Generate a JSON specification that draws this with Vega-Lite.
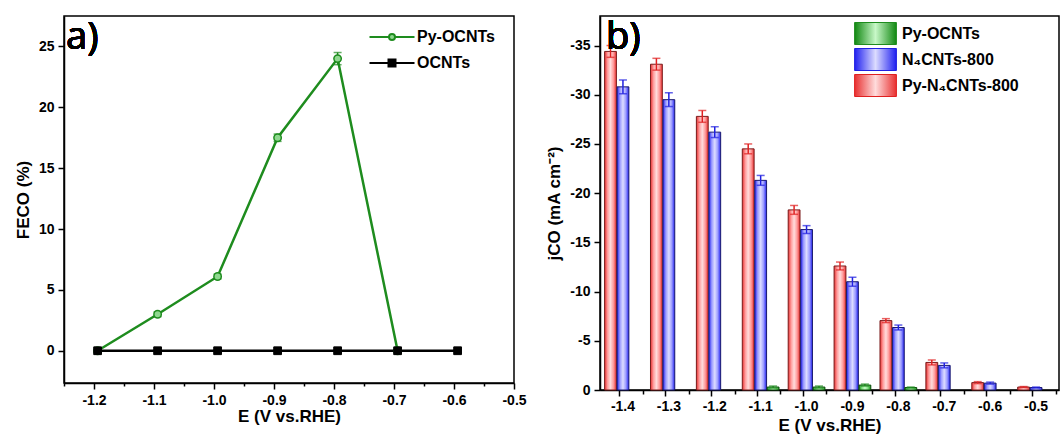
{
  "$schema": "https://vega.github.io/schema/vega-lite/v6.json",
  "padding": {"left": 13, "top": 15, "right": 0, "bottom": 0},
  "spacing": 18,
  "resolve": {"scale": {"color": "independent", "stroke": "independent", "fill": "independent", "shape": "independent", "y": "independent"}},
  "datasets": {
    "fe": [
      {"E": -1.194, "FE": 0, "err": 0.1, "s": "Py-OCNTs"},
      {"E": -1.094, "FE": 3.0, "err": 0.2, "s": "Py-OCNTs"},
      {"E": -0.994, "FE": 6.1, "err": 0.2, "s": "Py-OCNTs"},
      {"E": -0.894, "FE": 17.5, "err": 0.3, "s": "Py-OCNTs"},
      {"E": -0.794, "FE": 24.0, "err": 0.5, "s": "Py-OCNTs"},
      {"E": -0.694, "FE": 0, "err": 0.1, "s": "Py-OCNTs"},
      {"E": -1.194, "FE": 0, "err": 0, "s": "OCNTs"},
      {"E": -1.094, "FE": 0, "err": 0, "s": "OCNTs"},
      {"E": -0.994, "FE": 0, "err": 0, "s": "OCNTs"},
      {"E": -0.894, "FE": 0, "err": 0, "s": "OCNTs"},
      {"E": -0.794, "FE": 0, "err": 0, "s": "OCNTs"},
      {"E": -0.694, "FE": 0, "err": 0, "s": "OCNTs"},
      {"E": -0.594, "FE": 0, "err": 0, "s": "OCNTs"}
    ],
    "jco": [
      {"E": "-1.4", "s": "Py-N₄CNTs-800", "j": -34.4, "err": 0.6},
      {"E": "-1.4", "s": "N₄CNTs-800", "j": -30.8, "err": 0.7},
      {"E": "-1.3", "s": "Py-N₄CNTs-800", "j": -33.1, "err": 0.6},
      {"E": "-1.3", "s": "N₄CNTs-800", "j": -29.5, "err": 0.7},
      {"E": "-1.2", "s": "Py-N₄CNTs-800", "j": -27.8, "err": 0.6},
      {"E": "-1.2", "s": "N₄CNTs-800", "j": -26.2, "err": 0.55},
      {"E": "-1.1", "s": "Py-N₄CNTs-800", "j": -24.5, "err": 0.5},
      {"E": "-1.1", "s": "N₄CNTs-800", "j": -21.3, "err": 0.5},
      {"E": "-1.1", "s": "Py-OCNTs", "j": -0.3, "err": 0.1},
      {"E": "-1.0", "s": "Py-N₄CNTs-800", "j": -18.3, "err": 0.45},
      {"E": "-1.0", "s": "N₄CNTs-800", "j": -16.3, "err": 0.4},
      {"E": "-1.0", "s": "Py-OCNTs", "j": -0.3, "err": 0.1},
      {"E": "-0.9", "s": "Py-N₄CNTs-800", "j": -12.6, "err": 0.4},
      {"E": "-0.9", "s": "N₄CNTs-800", "j": -11.0, "err": 0.45},
      {"E": "-0.9", "s": "Py-OCNTs", "j": -0.5, "err": 0.1},
      {"E": "-0.8", "s": "Py-N₄CNTs-800", "j": -7.05, "err": 0.2},
      {"E": "-0.8", "s": "N₄CNTs-800", "j": -6.35, "err": 0.25},
      {"E": "-0.8", "s": "Py-OCNTs", "j": -0.25, "err": 0.05},
      {"E": "-0.7", "s": "Py-N₄CNTs-800", "j": -2.8, "err": 0.25},
      {"E": "-0.7", "s": "N₄CNTs-800", "j": -2.5, "err": 0.25},
      {"E": "-0.6", "s": "Py-N₄CNTs-800", "j": -0.75, "err": 0.1},
      {"E": "-0.6", "s": "N₄CNTs-800", "j": -0.7, "err": 0.1},
      {"E": "-0.5", "s": "Py-N₄CNTs-800", "j": -0.3, "err": 0.05},
      {"E": "-0.5", "s": "N₄CNTs-800", "j": -0.25, "err": 0.05}
    ]
  },
  "hconcat": [
    {
      "width": 450,
      "height": 367,
      "data": {"name": "fe"},
      "resolve": {"axis": {"x": "independent"}},
      "layer": [
        {
          "mark": {"type": "line", "strokeWidth": 2.5},
          "encoding": {
            "x": {
              "field": "E", "type": "quantitative", "title": "E (V vs.RHE)",
              "scale": {"domain": [-1.25, -0.5], "nice": false, "zero": false},
              "axis": {
                "orient": "bottom",
                "values": [-1.2, -1.1, -1.0, -0.9, -0.8, -0.7, -0.6, -0.5],
                "format": ".1f",
                "labelExpr": "replace(datum.label, '−', '-')",
                "tickSize": 6,
                "labelFlush": false,
                "labelOverlap": false,
                "labelPadding": 4,
                "titlePadding": 1
              }
            },
            "y": {
              "field": "FE", "type": "quantitative", "title": "FECO (%)",
              "scale": {"domain": [-2.65, 27.5], "nice": false, "zero": false},
              "axis": {
                "values": [0, 2.5, 5, 7.5, 10, 12.5, 15, 17.5, 20, 22.5, 25],
                "labelExpr": "datum.value % 5 === 0 ? datum.label : ''",
                "tickSize": {"condition": {"test": "datum.value % 5 !== 0", "value": 3}, "value": 6},
                "labelOverlap": false,
                "labelPadding": 4,
                "titlePadding": 6
              }
            },
            "color": {
              "field": "s", "type": "nominal",
              "scale": {"domain": ["Py-OCNTs", "OCNTs"], "range": ["#1e8c1e", "#000000"]},
              "legend": {
                "orient": "none", "legendX": 317, "legendY": 10, "title": null,
                "labelFontSize": 16, "labelFontWeight": "bold", "labelFont": "Liberation Sans",
                "symbolSize": 400, "rowPadding": 7, "labelOffset": 14, "symbolStrokeWidth": 2,
                "encode": {
                  "symbols": {
                    "update": {
                      "shape": {"signal": "datum.value === 'Py-OCNTs' ? 'M-2.25,0H-0.3M0.3,0H2.25M-0.3,0A0.3,0.3 0 1 1 0.3,0A0.3,0.3 0 1 1 -0.3,0' : 'M-2.25,0H2.25M-0.35,-0.35H0.35V0.35H-0.35Z'"},
                      "fill": {"signal": "datum.value === 'Py-OCNTs' ? '#8fd88f' : '#000000'"},
                      "strokeWidth": {"value": 2},
                      "opacity": {"value": 1}
                    }
                  }
                }
              }
            }
          }
        },
        {
          "transform": [{"filter": "datum.s === 'Py-OCNTs'"}],
          "mark": {"type": "errorbar", "color": "#1e8c1e", "thickness": 1.5, "ticks": {"size": 8, "color": "#1e8c1e", "thickness": 1.5}},
          "encoding": {
            "x": {"field": "E", "type": "quantitative", "axis": null},
            "y": {"field": "FE", "type": "quantitative", "title": "FECO (%)"},
            "yError": {"field": "err"}
          }
        },
        {
          "transform": [{"filter": "datum.s === 'Py-OCNTs'"}],
          "mark": {"type": "point", "shape": "circle", "filled": true, "fill": "#8fd88f", "stroke": "#1e8c1e", "opacity": 1, "strokeWidth": 1.5, "size": 55},
          "encoding": {
            "x": {"field": "E", "type": "quantitative", "axis": null},
            "y": {"field": "FE", "type": "quantitative", "title": "FECO (%)"}
          }
        },
        {
          "transform": [{"filter": "datum.s === 'OCNTs'"}],
          "mark": {"type": "point", "shape": "square", "filled": true, "fill": "#000000", "stroke": "#000000", "opacity": 1, "strokeWidth": 1, "size": 60},
          "encoding": {
            "x": {"field": "E", "type": "quantitative", "axis": null},
            "y": {"field": "FE", "type": "quantitative", "title": "FECO (%)"}
          }
        },
        {
          "mark": {"type": "text", "text": "a)", "align": "left", "baseline": "top", "fontSize": 38, "font": "Noto Sans", "dx": 2, "dy": 3},
          "encoding": {
            "x": {"datum": -1.25, "axis": {"orient": "bottom", "values": [-1.25, -1.15, -1.05, -0.95, -0.85, -0.75, -0.65, -0.55], "tickSize": 3, "labels": false, "domain": false, "title": null}},
            "y": {"datum": 27.5, "title": "FECO (%)"}
          }
        }
      ]
    },
    {
      "width": 459,
      "height": 374,
      "data": {"name": "jco"},
      "resolve": {"axis": {"x": "independent"}},
      "layer": [
        {
          "mark": {"type": "bar", "strokeWidth": 1},
          "encoding": {
            "x": {
              "field": "E", "type": "ordinal", "title": "E (V vs.RHE)",
              "scale": {"domain": ["-1.4", "-1.3", "-1.2", "-1.1", "-1.0", "-0.9", "-0.8", "-0.7", "-0.6", "-0.5"], "paddingInner": 0.2, "paddingOuter": 0.1},
              "axis": {"orient": "bottom", "bandPosition": 0.41, "tickSize": 6, "labelAngle": 0, "labelPadding": 3, "titlePadding": 4}
            },
            "xOffset": {"field": "s", "type": "nominal", "scale": {"domain": ["Py-N₄CNTs-800", "N₄CNTs-800", "Py-OCNTs"], "paddingInner": 0.05}},
            "y": {
              "field": "j", "type": "quantitative", "title": "jCO (mA cm⁻²)",
              "scale": {"domain": [0, -38], "nice": false},
              "axis": {
                "values": [0, -2.5, -5, -7.5, -10, -12.5, -15, -17.5, -20, -22.5, -25, -27.5, -30, -32.5, -35, -37.5],
                "labelExpr": "datum.value % 5 === 0 ? replace(datum.label, '−', '-') : ''",
                "tickSize": {"condition": {"test": "datum.value % 5 !== 0", "value": 3}, "value": 6},
                "labelOverlap": false,
                "labelPadding": 4,
                "titlePadding": 6
              }
            },
            "fill": {
              "condition": [
                {"test": "datum.s === 'Py-OCNTs'", "value": {"gradient": "linear", "x1": 0, "y1": 0, "x2": 1, "y2": 0, "stops": [{"offset": 0, "color": "#118811"}, {"offset": 0.25, "color": "#7fe07f"}, {"offset": 0.5, "color": "#c8f8c8"}, {"offset": 0.75, "color": "#7fe07f"}, {"offset": 1, "color": "#118811"}]}},
                {"test": "datum.s === 'N₄CNTs-800'", "value": {"gradient": "linear", "x1": 0, "y1": 0, "x2": 1, "y2": 0, "stops": [{"offset": 0, "color": "#2020f0"}, {"offset": 0.25, "color": "#9c9cff"}, {"offset": 0.5, "color": "#dcdcff"}, {"offset": 0.75, "color": "#9c9cff"}, {"offset": 1, "color": "#2020f0"}]}}
              ],
              "value": {"gradient": "linear", "x1": 0, "y1": 0, "x2": 1, "y2": 0, "stops": [{"offset": 0, "color": "#e83030"}, {"offset": 0.25, "color": "#ff9c9c"}, {"offset": 0.5, "color": "#ffdcdc"}, {"offset": 0.75, "color": "#ff9c9c"}, {"offset": 1, "color": "#e83030"}]}
            },
            "stroke": {
              "condition": [
                {"test": "datum.s === 'Py-OCNTs'", "value": "#0d4d0d"},
                {"test": "datum.s === 'N₄CNTs-800'", "value": "#1a1a6e"}
              ],
              "value": "#7a1c1c"
            }
          }
        },
        {
          "mark": {"type": "errorbar", "thickness": 1.5, "ticks": {"size": 8, "thickness": 1.5}},
          "encoding": {
            "x": {"field": "E", "type": "ordinal", "axis": null},
            "xOffset": {"field": "s", "type": "nominal"},
            "y": {"field": "j", "type": "quantitative", "title": "jCO (mA cm⁻²)"},
            "yError": {"field": "err"},
            "color": {
              "condition": [
                {"test": "datum.s === 'Py-OCNTs'", "value": "#1e8c1e"},
                {"test": "datum.s === 'N₄CNTs-800'", "value": "#2020e0"}
              ],
              "value": "#e02020"
            }
          }
        },
        {
          "transform": [{"filter": "datum.j > 1000"}],
          "mark": {"type": "line"},
          "encoding": {
            "x": {"field": "E", "type": "ordinal", "axis": null},
            "y": {"field": "j", "type": "quantitative", "title": "jCO (mA cm⁻²)"},
            "color": {
              "field": "s", "type": "nominal",
              "scale": {"domain": ["Py-OCNTs", "N₄CNTs-800", "Py-N₄CNTs-800"], "range": ["#1e8c1e", "#2020e0", "#e02020"]},
              "legend": {
                "orient": "none", "legendX": 264, "legendY": 6, "title": null,
                "labelFontSize": 16, "labelFontWeight": "bold", "labelFont": "Liberation Sans",
                "symbolSize": 484, "rowPadding": -1, "labelOffset": 15,
                "encode": {
                  "symbols": {
                    "update": {
                      "shape": {"value": "M-1.9,-1H1.9V1H-1.9Z"},
                      "fill": {"signal": "datum.value === 'Py-OCNTs' ? {gradient: 'linear', x1: 0, y1: 0, x2: 1, y2: 0, stops: [{offset: 0, color: '#118811'}, {offset: 0.5, color: '#c8f8c8'}, {offset: 1, color: '#118811'}]} : datum.value === 'N₄CNTs-800' ? {gradient: 'linear', x1: 0, y1: 0, x2: 1, y2: 0, stops: [{offset: 0, color: '#2020f0'}, {offset: 0.5, color: '#dcdcff'}, {offset: 1, color: '#2020f0'}]} : {gradient: 'linear', x1: 0, y1: 0, x2: 1, y2: 0, stops: [{offset: 0, color: '#e83030'}, {offset: 0.5, color: '#ffdcdc'}, {offset: 1, color: '#e83030'}]}"},
                      "stroke": {"signal": "datum.value === 'Py-OCNTs' ? '#0d4d0d' : datum.value === 'N₄CNTs-800' ? '#1a1a6e' : '#7a1c1c'"},
                      "strokeWidth": {"value": 1},
                      "opacity": {"value": 1}
                    }
                  }
                }
              }
            }
          }
        },
        {
          "mark": {"type": "text", "text": "b)", "align": "left", "baseline": "top", "fontSize": 38, "font": "Noto Sans", "dx": -17, "dy": 3},
          "encoding": {
            "x": {"datum": "-1.4", "type": "ordinal", "axis": {"orient": "bottom", "bandPosition": 1.054, "tickSize": 4, "labels": false, "domain": false, "title": null}},
            "y": {"datum": -38, "type": "quantitative", "title": "jCO (mA cm⁻²)"}
          }
        }
      ]
    }
  ],
  "config": {
    "font": "Liberation Sans",
    "view": {"stroke": "#000000", "strokeWidth": 1.5},
    "axis": {
      "grid": false,
      "labelFont": "Liberation Sans", "labelFontSize": 14, "labelFontWeight": "bold", "labelColor": "#000000",
      "titleFont": "Liberation Sans", "titleFontSize": 17, "titleFontWeight": "bold", "titleColor": "#000000",
      "domainColor": "#000000", "domainWidth": 1.5, "tickColor": "#000000", "tickWidth": 1.5
    },
    "legend": {"labelColor": "#000000"}
  }
}
